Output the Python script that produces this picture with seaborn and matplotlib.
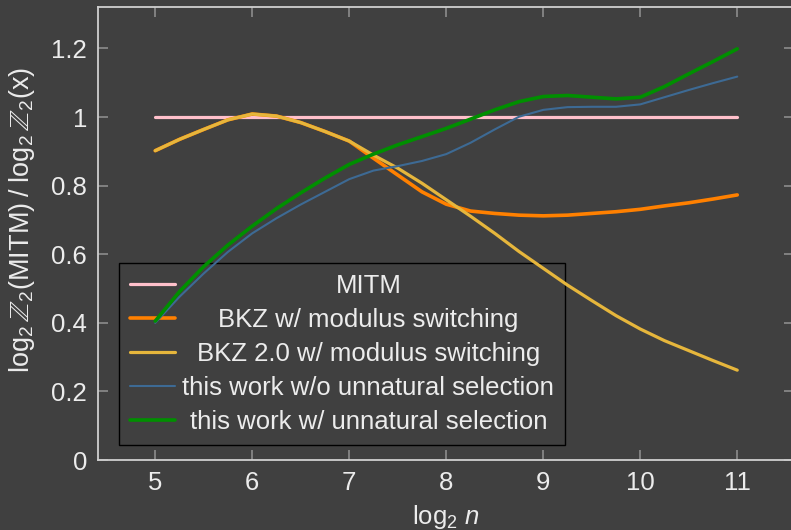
import matplotlib
matplotlib.use("Agg")
import matplotlib.pyplot as plt
import seaborn as sns
import pandas as pd

# ---- data ----
log2_n = [5, 5.25, 5.5, 5.75, 6, 6.25, 6.5, 6.75, 7, 7.25, 7.5, 7.75, 8,
          8.25, 8.5, 8.75, 9, 9.25, 9.5, 9.75, 10, 10.25, 10.5, 10.75, 11]
mitm = [1.0, 1.0, 1.0, 1.0, 1.0, 1.0, 1.0, 1.0, 1.0, 1.0, 1.0, 1.0, 1.0,
        1.0, 1.0, 1.0, 1.0, 1.0, 1.0, 1.0, 1.0, 1.0, 1.0, 1.0, 1.0]
bkz_ms = [0.902, 0.935, 0.964, 0.992, 1.009, 1.003, 0.984, 0.958, 0.930, 0.880, 0.831, 0.782, 0.746,
          0.726, 0.719, 0.714, 0.712, 0.714, 0.719, 0.724, 0.731, 0.741, 0.750, 0.761, 0.773]
bkz2_ms = [0.902, 0.935, 0.964, 0.992, 1.009, 1.003, 0.984, 0.958, 0.930, 0.889, 0.851, 0.807, 0.759,
           0.711, 0.661, 0.608, 0.559, 0.510, 0.465, 0.421, 0.382, 0.348, 0.319, 0.290, 0.262]
work_wo = [0.400, 0.476, 0.544, 0.607, 0.661, 0.705, 0.745, 0.782, 0.819, 0.844, 0.857, 0.872, 0.892,
           0.925, 0.964, 1.001, 1.021, 1.029, 1.030, 1.030, 1.037, 1.058, 1.079, 1.099, 1.118]
work_w = [0.405, 0.491, 0.564, 0.627, 0.682, 0.733, 0.779, 0.822, 0.862, 0.892, 0.919, 0.943, 0.967,
          0.994, 1.021, 1.045, 1.060, 1.063, 1.058, 1.053, 1.058, 1.089, 1.126, 1.162, 1.199]

labels = ["MITM", "BKZ w/ modulus switching", "BKZ 2.0 w/ modulus switching",
          "this work w/o unnatural selection", "this work w/ unnatural selection"]
series = [mitm, bkz_ms, bkz2_ms, work_wo, work_w]
colors = ["#ffc0cb", "#ff8000", "#e6b63c", "#3d6a94", "#008f00"]
widths = [2.3, 2.6, 2.3, 1.5, 2.6]

xticks = [5, 6, 7, 8, 9, 10, 11]
yticks = [0, 0.2, 0.4, 0.6, 0.8, 1.0, 1.2]
yticklabels = ["0", "0.2", "0.4", "0.6", "0.8", "1", "1.2"]

BG = "#404040"
FG = "#ececec"
SPINE = "#cfcfcf"
TICK = "#8c8c8c"

sns.set_style("dark")
plt.rcParams["font.family"] = ["Liberation Sans", "DejaVu Sans"]
plt.rcParams["mathtext.fontset"] = "custom"
plt.rcParams["mathtext.rm"] = "Liberation Sans"
plt.rcParams["mathtext.it"] = "Liberation Sans:italic"
plt.rcParams["mathtext.bf"] = "Liberation Sans:bold"
plt.rcParams["mathtext.fallback"] = "stixsans"

FS = 18.5

fig = plt.figure(figsize=(7.91, 5.30), dpi=100, facecolor=BG)
ax = fig.add_axes([98 / 791, 1 - 460 / 530, 696 / 791, 453 / 530])
ax.set_facecolor(BG)

for vals, lab, c, lw in zip(series, labels, colors, widths):
    df = pd.DataFrame({"x": log2_n, "y": vals})
    sns.lineplot(data=df, x="x", y="y", ax=ax, color=c, linewidth=lw,
                 label=lab, zorder=3)

ax.set_xlim(4.41, 11.585)
ax.set_ylim(0, 1.321)
ax.set_xticks(xticks)
ax.set_xticklabels([str(v) for v in xticks])
ax.set_yticks(yticks)
ax.set_yticklabels(yticklabels)
ax.grid(False)

for s in ["left", "top", "bottom"]:
    ax.spines[s].set_visible(True)
    ax.spines[s].set_color(SPINE)
    ax.spines[s].set_linewidth(1.3)
ax.spines["right"].set_visible(False)

ax.tick_params(axis="both", which="major", direction="in", length=7, width=1.2,
               color=TICK, labelcolor=FG, labelsize=FS, pad=8)
ax.tick_params(axis="x", top=True, bottom=True)
ax.tick_params(axis="y", left=True, right=True)

ax.set_xlabel("log$_2$ $n$", color=FG, fontsize=FS, labelpad=6)
ax.set_ylabel(r"log$_2\,\mathbb{Z}_2$(MITM)$\;/\;$log$_2\,\mathbb{Z}_2$(x)", color=FG,
              fontsize=19.5)
ax.yaxis.set_label_coords(-0.088, 0.53)

leg = ax.legend(loc="upper left", bbox_to_anchor=(21 / 696, 197 / 453),
                borderaxespad=0, fontsize=FS, frameon=True, fancybox=False,
                framealpha=1, facecolor=BG, edgecolor="#000000",
                handlelength=1.75, handletextpad=0.3, borderpad=0.42,
                labelspacing=0.39, labelcolor=FG)
leg.get_frame().set_linewidth(1.0)
leg.set_zorder(2)

# centre the legend texts like the reference
fig.canvas.draw()
texts = leg.get_texts()
ws = [t.get_window_extent().width for t in texts]
mw = max(ws)
for t, w in zip(texts, ws):
    t.set_x((mw - w) / 2)

fig.savefig("out.png", dpi=100, facecolor=BG)
